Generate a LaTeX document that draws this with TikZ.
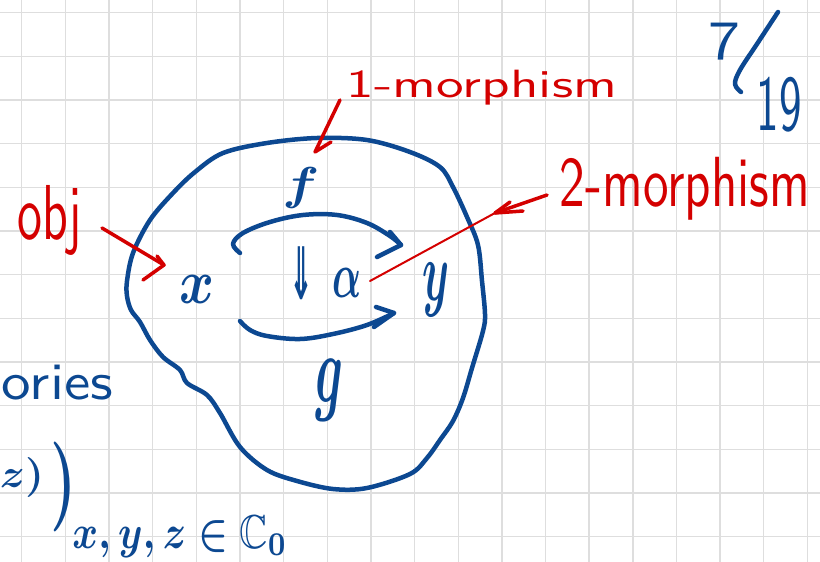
\documentclass[tikz,border=0pt]{standalone}
\usepackage{amsmath,amssymb}
\usepackage{fontspec}
\newfontfamily\arrowfont{DejaVu Sans}
\usetikzlibrary{arrows.meta}
\definecolor{ink}{RGB}{12,72,145}
\definecolor{redink}{RGB}{212,0,0}
\definecolor{gridc}{RGB}{222,222,222}
\newcommand{\hwbox}[3]{\resizebox*{#1}{#2}{#3}}
\tikzset{
  inkt/.style={text=ink, inner sep=0pt, outer sep=0pt},
  redt/.style={text=redink, inner sep=0pt, outer sep=0pt, font=\sffamily},
  inkline/.style={draw=ink, line width=4.5pt, line cap=round, line join=round},
  redline/.style={draw=redink, line width=3.5pt, line cap=round, line join=round},
  redthin/.style={draw=redink, line width=2pt, line cap=round},
  gridline/.style={draw=gridc, line width=1.4pt}
}
\begin{document}
\begin{tikzpicture}[x=1pt,y=-1pt]
\useasboundingbox (0,0) rectangle (820,562);
\fill[white] (0,0) rectangle (820,562);
% grid paper
\foreach \i in {0,...,18} \draw[gridline] ({21.7+43.65*\i},0) -- ({21.7+43.65*\i},562);
\foreach \j in {0,...,12} \draw[gridline] (0,{12.7+43.65*\j}) -- (820,{12.7+43.65*\j});

% the blob (2-category)
\draw[inkline] plot[smooth cycle, tension=0.55] coordinates {
 (127,281) (133,253) (150,220) (173,193) (195,172) (223,153) (267,143) (317,138)
 (367,140) (410,152) (440,167) (453,187) (467,217) (478,245) (482,281) (485,314)
 (483,331) (472,368) (463,398) (453,421) (440,440) (427,458) (410,474) (367,488)
 (333,489) (297,481) (267,470) (240,447) (220,413) (207,395) (187,383) (180,370)
 (163,357) (150,340) (140,322) (131,310) (127,296)};

% objects and morphism labels
\node[inkt] (x) at (197,289) {\hwbox{35pt}{28pt}{$\boldsymbol{x}$}};
\node[inkt] (y) at (436,290) {\hwbox{27pt}{54pt}{$\boldsymbol{y}$}};
\node[inkt] (f) at (301,188) {\hwbox{37pt}{41pt}{$\boldsymbol{f}$}};
\node[inkt] (g) at (329,390) {\hwbox{28pt}{62pt}{$\boldsymbol{g}$}};
\node[inkt] (dar) at (301,273) {\hwbox{24pt}{53pt}{\arrowfont\bfseries ⇓}};
\node[inkt] (alpha) at (347,283) {\hwbox{29pt}{29pt}{$\boldsymbol{\alpha}$}};

% arrows f and g
\coordinate (fstart) at (240,253);
\coordinate (ftip) at (401,245);
\draw[inkline] plot[smooth, tension=0.6] coordinates {(fstart) (233,244) (243,233) (270,222) (303,215) (337,215) (367,223) (390,236) (ftip)};
\draw[inkline] (ftip) ++(-11,-13) -- (ftip) -- ++(-24,12);
\coordinate (gstart) at (240,321);
\coordinate (gtip) at (394,313);
\draw[inkline] plot[smooth, tension=0.6] coordinates {(gstart) (250,330) (267,336) (300,339) (333,334) (367,325) (gtip)};
\draw[inkline] (gtip) ++(-18,-6) -- (gtip) -- ++(-20,14);

% left fragments
\node[inkt, anchor=east, font=\sffamily] (ories) at (113,383) {\hwbox{111pt}{35pt}{ories}};
\node[inkt] (zp) at (22,477) {\hwbox{44pt}{40pt}{$\boldsymbol{z)}$}};
\node[inkt] (bigp) at (64,487) {\hwbox{26pt}{90pt}{$\boldsymbol{)}$}};
\node[inkt] (sub) at (180,537) {\hwbox{215pt}{42pt}{$\boldsymbol{x,y,z\in}\mathbb{C}_{\boldsymbol{0}}$}};

% date 7/19
\node[inkt, font=\sffamily] (seven) at (724,42) {\hwbox{32pt}{37pt}{7}};
\node[inkt, font=\sffamily] (nineteen) at (779,105) {\hwbox{45pt}{55pt}{19}};
\draw[inkline] plot[smooth, tension=0.6] coordinates {(778,12) (757,44) (740,70) (735,84) (741,92)};

% red annotations
\node[redt] (obj) at (50,220) {\hwbox{64pt}{70pt}{obj}};
\node[redt] (m1) at (482,88) {\hwbox{270pt}{35pt}{1-morphism}};
\node[redt] (m2) at (685,189) {\hwbox{250pt}{63pt}{2-morphism}};

\coordinate (objtail) at (102,228);
\coordinate (objtip) at (164,265);
\draw[redline] (objtail) -- (objtip);
\draw[redline] (objtip) ++(-7,-9) -- (objtip) -- ++(-21,15);

\coordinate (m1tail) at (340,100);
\coordinate (m1tip) at (315,152);
\draw[redline] (m1tail) -- (m1tip) -- ++(16,-10);

\coordinate (m2tail) at (547,195);
\coordinate (m2tip) at (495,213);
\coordinate (m2end) at (370,281);
\draw[redline] (m2tail) -- (m2tip);
\draw[redline] (m2tip) ++(15,-11) -- (m2tip) -- ++(28,-2);
\draw[redthin] (m2tip) -- (m2end);
\end{tikzpicture}
\end{document}
